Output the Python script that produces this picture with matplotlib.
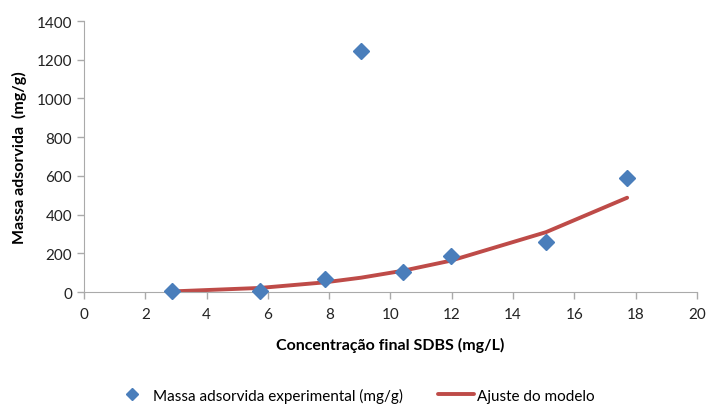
import matplotlib.pyplot as plt

# experimental adsorption data and model fit
conc = [2.87, 5.74, 7.86, 9.04, 10.41, 11.97, 15.07, 17.72]
q_exp = [3, 3, 67, 1245, 103, 186, 258, 589]
q_model = [3, 21, 50, 74, 110, 162, 309, 487]

xticks = list(range(0, 21, 2))
yticks = list(range(0, 1401, 200))

plt.rcParams['font.family'] = ['Lato', 'DejaVu Sans']

fig = plt.figure(figsize=(7.08, 4.06), dpi=100)
ax = fig.add_axes([0.1186, 0.2783, 0.8659, 0.6675])

ax.plot(conc, q_model, color='#be4b48', lw=2.8, solid_capstyle='round',
        label='Ajuste do modelo', zorder=2)
ax.plot(conc, q_exp, linestyle='none', marker='D', ms=8.5, color='#4a7ebb',
        label='Massa adsorvida experimental (mg/g)', clip_on=False, zorder=3)

ax.set_xlim(0, 20)
ax.set_ylim(0, 1400)
ax.set_xticks(xticks)
ax.set_yticks(yticks)
ax.tick_params(colors='#aaaaaa', labelcolor='#222222', labelsize=11,
               length=5, width=1)
ax.tick_params(axis='x', pad=6)
for side in ['top', 'right']:
    ax.spines[side].set_visible(False)
for side in ['left', 'bottom']:
    ax.spines[side].set_color('#aaaaaa')

ax.set_xlabel('Concentração final SDBS (mg/L)', fontsize=11.5,
              fontweight='bold', labelpad=11)
ax.set_ylabel('Massa adsorvida  (mg/g)', fontsize=11.5, fontweight='bold',
              labelpad=7)

handles, labels = ax.get_legend_handles_labels()
fig.legend(handles[::-1], labels[::-1], loc='center', ncol=2,
           bbox_to_anchor=(0.5, 0.024), frameon=False, fontsize=11,
           handlelength=2.4, columnspacing=2.3, handletextpad=0.15,
           markerscale=0.7)

fig.savefig('out.png', dpi=100)
